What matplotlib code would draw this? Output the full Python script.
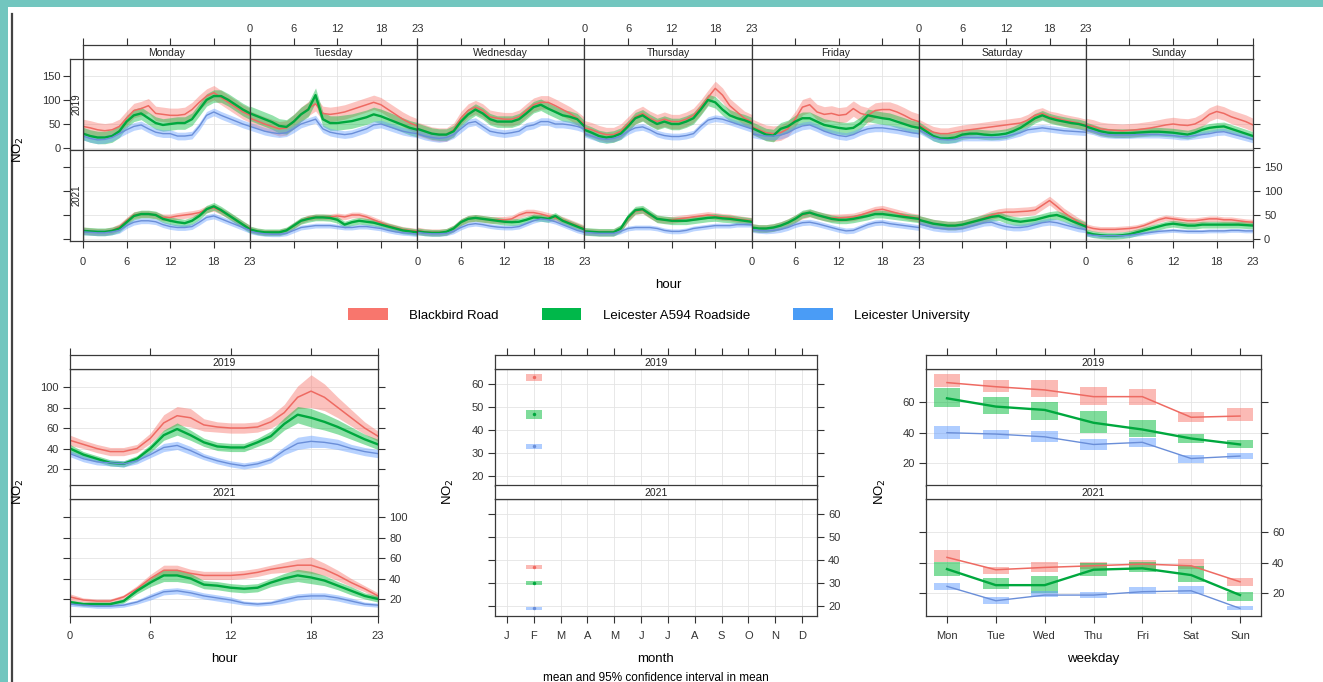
import matplotlib.pyplot as plt
from matplotlib import font_manager
from matplotlib.patches import Rectangle, Patch
from matplotlib.lines import Line2D

# ---------------- data ----------------
sites = ["Blackbird Road", "Leicester A594 Roadside", "Leicester University"]
years = ["2019", "2021"]
days = ["Monday", "Tuesday", "Wednesday", "Thursday", "Friday", "Saturday", "Sunday"]
hours = list(range(24))
months = ["J", "F", "M", "A", "M", "J", "J", "A", "S", "O", "N", "D"]
weekdays = ["Mon", "Tue", "Wed", "Thu", "Fri", "Sat", "Sun"]

# hour x weekday means (Mon..Sun, 24 hours each)
bb_dh_2019 = [
    [45, 42, 38, 36, 38, 45, 62, 78, 82, 88, 72, 70, 68, 68, 70, 80, 95, 108, 115, 105, 95, 85, 75, 68],
    [62, 56, 50, 45, 40, 42, 55, 70, 82, 92, 72, 70, 72, 75, 80, 85, 90, 95, 90, 80, 70, 60, 52, 46],
    [40, 35, 30, 28, 28, 38, 62, 78, 85, 78, 65, 62, 60, 60, 65, 78, 90, 95, 95, 88, 80, 72, 62, 50],
    [42, 38, 32, 28, 28, 35, 50, 65, 72, 62, 55, 60, 55, 55, 60, 68, 85, 105, 124, 110, 88, 75, 62, 55],
    [45, 38, 32, 30, 32, 40, 60, 85, 90, 75, 70, 72, 68, 70, 82, 72, 68, 78, 80, 80, 75, 68, 60, 55],
    [48, 40, 33, 30, 30, 33, 36, 38, 40, 42, 44, 46, 48, 50, 52, 58, 68, 72, 65, 62, 58, 55, 52, 48],
    [48, 45, 40, 38, 37, 36, 37, 38, 40, 42, 45, 48, 50, 48, 47, 50, 58, 70, 76, 72, 65, 60, 55, 48],
]
a594_dh_2019 = [
    [30, 25, 22, 22, 25, 35, 55, 68, 72, 62, 52, 48, 50, 52, 52, 60, 80, 100, 108, 108, 100, 90, 80, 72],
    [72, 66, 60, 54, 46, 44, 55, 70, 80, 110, 60, 52, 52, 54, 56, 60, 64, 70, 66, 60, 54, 48, 42, 38],
    [40, 35, 30, 28, 28, 35, 55, 70, 80, 72, 60, 55, 55, 55, 60, 72, 85, 90, 82, 75, 68, 65, 60, 45],
    [38, 32, 25, 22, 24, 30, 45, 62, 68, 58, 50, 55, 50, 50, 55, 62, 80, 100, 95, 80, 68, 62, 58, 52],
    [42, 35, 28, 26, 40, 45, 55, 62, 62, 55, 48, 45, 42, 40, 42, 52, 68, 65, 62, 60, 55, 50, 45, 42],
    [45, 35, 25, 20, 20, 22, 28, 30, 30, 28, 27, 28, 30, 35, 42, 52, 62, 68, 62, 58, 55, 52, 50, 46],
    [45, 40, 35, 32, 31, 31, 31, 32, 33, 34, 34, 33, 32, 30, 28, 32, 38, 42, 44, 45, 40, 35, 30, 25],
]
uni_dh_2019 = [
    [25, 20, 17, 18, 22, 30, 38, 45, 48, 40, 33, 30, 30, 25, 25, 27, 45, 68, 75, 68, 62, 56, 50, 45],
    [45, 40, 35, 32, 30, 32, 40, 50, 55, 60, 40, 33, 30, 28, 30, 35, 40, 48, 50, 45, 40, 35, 32, 30],
    [30, 25, 22, 20, 22, 28, 40, 52, 55, 45, 35, 32, 30, 32, 35, 45, 48, 55, 55, 50, 50, 48, 45, 40],
    [30, 25, 20, 18, 20, 25, 35, 42, 44, 38, 30, 26, 24, 24, 26, 30, 45, 58, 62, 60, 55, 50, 45, 40],
    [30, 27, 25, 25, 27, 32, 40, 46, 48, 42, 35, 30, 26, 24, 28, 35, 40, 42, 42, 40, 38, 35, 32, 30],
    [38, 30, 22, 18, 17, 18, 22, 22, 22, 22, 22, 22, 24, 28, 32, 38, 40, 42, 40, 38, 36, 35, 34, 33],
    [38, 35, 30, 28, 27, 27, 27, 28, 28, 28, 28, 27, 26, 24, 24, 26, 28, 30, 33, 34, 30, 26, 22, 18],
]
bb_dh_2021 = [
    [18, 16, 15, 15, 18, 25, 38, 50, 52, 52, 50, 45, 45, 48, 50, 52, 55, 62, 65, 58, 50, 40, 30, 22],
    [20, 16, 14, 14, 14, 18, 28, 38, 44, 46, 46, 46, 48, 46, 50, 50, 46, 40, 34, 28, 24, 20, 18, 16],
    [18, 15, 14, 14, 15, 22, 35, 42, 44, 42, 40, 40, 40, 42, 50, 55, 55, 52, 48, 44, 40, 34, 28, 22],
    [16, 15, 14, 14, 14, 22, 42, 58, 60, 50, 42, 40, 40, 42, 44, 46, 48, 50, 48, 46, 45, 42, 40, 38],
    [24, 22, 22, 24, 28, 34, 42, 50, 54, 50, 46, 44, 44, 45, 46, 50, 55, 60, 62, 58, 54, 50, 46, 44],
    [40, 36, 32, 30, 28, 28, 30, 34, 38, 44, 50, 54, 56, 56, 57, 58, 60, 70, 80, 68, 55, 45, 35, 28],
    [26, 22, 20, 20, 20, 21, 22, 24, 28, 34, 40, 44, 42, 40, 38, 38, 40, 42, 42, 40, 40, 38, 36, 35],
]
a594_dh_2021 = [
    [17, 16, 15, 15, 17, 22, 35, 48, 52, 52, 50, 42, 38, 35, 33, 38, 48, 62, 68, 60, 50, 40, 30, 20],
    [20, 16, 14, 14, 14, 18, 28, 38, 42, 45, 45, 44, 40, 30, 35, 38, 36, 34, 30, 26, 22, 18, 16, 14],
    [16, 14, 13, 13, 15, 22, 35, 42, 44, 42, 40, 38, 36, 35, 36, 40, 45, 44, 42, 48, 38, 32, 26, 20],
    [16, 15, 14, 14, 14, 22, 45, 60, 62, 52, 42, 40, 38, 38, 38, 40, 42, 44, 45, 43, 42, 40, 38, 36],
    [24, 22, 22, 24, 28, 34, 42, 52, 55, 50, 46, 42, 40, 40, 42, 45, 48, 52, 52, 50, 48, 46, 44, 42],
    [40, 36, 32, 30, 28, 28, 30, 34, 38, 42, 46, 48, 42, 38, 36, 38, 40, 44, 48, 50, 45, 38, 32, 26],
    [14, 10, 8, 7, 7, 8, 10, 14, 18, 22, 26, 30, 32, 30, 28, 28, 30, 30, 30, 30, 30, 30, 29, 28],
]
uni_dh_2021 = [
    [15, 14, 13, 13, 15, 18, 28, 35, 38, 38, 36, 30, 26, 24, 24, 26, 35, 45, 48, 42, 36, 30, 24, 18],
    [16, 13, 11, 10, 10, 12, 18, 24, 26, 28, 28, 28, 26, 24, 24, 26, 26, 24, 22, 18, 15, 13, 12, 10],
    [14, 12, 11, 11, 12, 16, 24, 30, 32, 30, 27, 25, 24, 24, 26, 32, 38, 42, 40, 36, 30, 24, 18, 14],
    [14, 13, 12, 12, 12, 16, 22, 24, 24, 24, 22, 18, 16, 16, 18, 22, 24, 26, 28, 28, 28, 30, 30, 30],
    [20, 18, 17, 18, 20, 24, 30, 34, 35, 32, 28, 24, 20, 17, 18, 24, 30, 34, 35, 32, 30, 28, 26, 24],
    [32, 28, 24, 22, 21, 21, 22, 26, 30, 34, 35, 30, 26, 24, 24, 26, 30, 34, 36, 34, 30, 26, 22, 20],
    [10, 8, 7, 7, 7, 7, 8, 10, 12, 14, 16, 17, 18, 17, 16, 16, 16, 17, 17, 17, 18, 18, 17, 17],
]
# half width of the 95% interval for each weekday panel
bb_dh_ci_2019 = [15, 15, 14, 15, 16, 12, 14]
a594_dh_ci_2019 = [13, 15, 12, 12, 13, 10, 9]
uni_dh_ci_2019 = [8, 8, 8, 7, 8, 7, 7]
bb_dh_ci_2021 = [7, 6, 7, 7, 8, 9, 6]
a594_dh_ci_2021 = [8, 7, 7, 8, 8, 9, 7]
uni_dh_ci_2021 = [6, 5, 5, 5, 6, 7, 4]

# hour of day
bb_hour_2019 = [48, 44, 40, 37, 37, 40, 50, 65, 72, 70, 63, 61, 60, 60, 61, 66, 75, 90, 96, 90, 80, 70, 60, 52]
a594_hour_2019 = [40, 34, 30, 26, 25, 30, 40, 53, 59, 53, 46, 42, 41, 41, 46, 52, 64, 73, 70, 66, 61, 55, 49, 44]
uni_hour_2019 = [35, 30, 27, 26, 25, 28, 34, 41, 43, 38, 32, 28, 25, 23, 25, 29, 38, 45, 47, 46, 44, 40, 37, 35]
bb_hour_2021 = [22, 19, 18, 18, 22, 30, 40, 48, 48, 45, 43, 43, 43, 44, 46, 49, 51, 53, 53, 49, 43, 36, 30, 23]
a594_hour_2021 = [17, 15, 15, 15, 18, 28, 36, 43, 43, 40, 34, 33, 31, 30, 31, 36, 40, 43, 41, 38, 33, 28, 23, 20]
uni_hour_2021 = [15, 14, 13, 13, 14, 17, 22, 27, 28, 26, 23, 21, 19, 16, 15, 16, 19, 22, 23, 23, 21, 18, 15, 14]
bb_hour_ci_2019 = [5, 4, 4, 4, 4, 4, 5, 8, 9, 9, 6, 5, 5, 5, 5, 6, 8, 11, 16, 13, 10, 8, 6, 5]
a594_hour_ci_2019 = [4, 3, 3, 3, 3, 3, 4, 5, 6, 5, 4, 4, 4, 4, 4, 5, 6, 8, 9, 8, 7, 6, 5, 5]
uni_hour_ci_2019 = [3, 3, 3, 3, 3, 3, 3, 4, 4, 4, 3, 3, 3, 3, 3, 3, 4, 6, 6, 5, 5, 4, 4, 4]
bb_hour_ci_2021 = [3, 2, 2, 2, 2, 3, 4, 5, 5, 4, 4, 4, 4, 4, 4, 4, 5, 6, 8, 6, 5, 4, 3, 3]
a594_hour_ci_2021 = [2, 2, 2, 2, 2, 3, 4, 6, 6, 5, 4, 4, 4, 4, 4, 4, 5, 6, 6, 5, 4, 4, 3, 3]
uni_hour_ci_2021 = [2, 2, 2, 2, 2, 2, 3, 3, 3, 3, 3, 3, 3, 2, 2, 2, 3, 3, 3, 3, 3, 3, 2, 2]

# month (only February has data)
month_num = [2]
bb_month_2019, bb_month_lo_2019, bb_month_hi_2019 = [63], [61.5], [64.5]
a594_month_2019, a594_month_lo_2019, a594_month_hi_2019 = [47], [45], [49]
uni_month_2019, uni_month_lo_2019, uni_month_hi_2019 = [33], [32], [34]
bb_month_2021, bb_month_lo_2021, bb_month_hi_2021 = [37], [36], [38]
a594_month_2021, a594_month_lo_2021, a594_month_hi_2021 = [30], [29], [31]
uni_month_2021, uni_month_lo_2021, uni_month_hi_2021 = [19], [18.3], [19.7]

# weekday
bb_wd_2019 = [72.7, 70, 67.9, 63.5, 63.5, 50, 50.8]
bb_wd_lo_2019 = [69.5, 66.8, 63, 58, 58, 47, 47.7]
bb_wd_hi_2019 = [78.6, 74.4, 74.4, 70, 68.4, 53.6, 56]
a594_wd_2019 = [62.4, 57, 54.8, 46.4, 42, 36.1, 32.2]
a594_wd_lo_2019 = [57, 52, 48.2, 39.5, 37.2, 33.3, 29.6]
a594_wd_hi_2019 = [69.4, 63.5, 60.2, 54, 48.2, 39, 35]
uni_wd_2019 = [39.9, 39, 37.2, 32.2, 33.6, 23, 24.6]
uni_wd_lo_2019 = [35.5, 35.7, 34, 28.5, 30.3, 20.2, 22.4]
uni_wd_hi_2019 = [44.3, 41.6, 41, 36, 36.6, 25.2, 26.4]
bb_wd_2021 = [43.4, 35.3, 36.8, 37.9, 39, 37.9, 27.4]
bb_wd_lo_2021 = [40.1, 32.5, 34, 35.7, 35.7, 35.7, 24.8]
bb_wd_hi_2021 = [48.2, 37.2, 40.5, 40.1, 41.8, 42, 29.6]
a594_wd_2021 = [35.7, 25.2, 25.2, 35.3, 36.2, 31.8, 18.7]
a594_wd_lo_2021 = [31.3, 23, 20, 31, 33.6, 27.4, 15]
a594_wd_hi_2021 = [40.5, 29.6, 31, 39.7, 40.5, 37.9, 20.9]
uni_wd_2021 = [24.4, 15, 18.7, 18.7, 20.9, 21.5, 10]
uni_wd_lo_2021 = [22.2, 12.8, 17.2, 16.8, 19.3, 19.3, 9]
uni_wd_hi_2021 = [26.4, 17.2, 21.5, 21, 23.7, 24.4, 11.7]

# ---------------- style ----------------
names = {f.name for f in font_manager.fontManager.ttflist}
base_font = "Liberation Sans Narrow" if "Liberation Sans Narrow" in names else "Liberation Sans"
plt.rcParams["font.family"] = [base_font, "DejaVu Sans"]

fill_cols = ["#F8766D", "#00BA38", "#619CFF"]
line_cols = ["#EE6A62", "#00A83E", "#6A8ED8"]
line_ws = [1.1, 1.7, 1.0]
frame_col = "#3a3a3a"
tick_col = "#333333"
grid_col = "#e4e4e4"

W, H = 1323, 682
fig = plt.figure(figsize=(W / 100, H / 100), dpi=100)
fig.patch.set_facecolor("white")


def box(x0, y0, x1, y1):
    return [x0 / W, 1 - y1 / H, (x1 - x0) / W, (y1 - y0) / H]


def base(ax, xlim, ylim, xt, yt, grid=True):
    ax.set_xlim(xlim)
    ax.set_ylim(ylim)
    ax.set_xticks(xt)
    ax.set_yticks(yt)
    if grid:
        ax.grid(True, color=grid_col, lw=0.6)
        ax.set_axisbelow(True)
    ax.tick_params(length=0, width=0.8, labelbottom=False, labelleft=False,
                   colors=tick_col, labelsize=8)
    for sp in ax.spines.values():
        sp.set_color(frame_col)
        sp.set_linewidth(0.9)


# slide frame
fig.add_artist(Rectangle((0, 1 - 7 / H), 1, 7 / H, transform=fig.transFigure,
                         color="#72C6BF", lw=0))
fig.add_artist(Rectangle((0, 0), 8 / W, 1, transform=fig.transFigure,
                         color="#72C6BF", lw=0))
fig.add_artist(Line2D([11.5 / W, 11.5 / W], [0, 1 - 14 / H], transform=fig.transFigure,
                      color="#444444", lw=1.6))

# ---------------- top: hour x weekday ----------------
dh = {"2019": [bb_dh_2019, a594_dh_2019, uni_dh_2019],
      "2021": [bb_dh_2021, a594_dh_2021, uni_dh_2021]}
dh_ci = {"2019": [bb_dh_ci_2019, a594_dh_ci_2019, uni_dh_ci_2019],
         "2021": [bb_dh_ci_2021, a594_dh_ci_2021, uni_dh_ci_2021]}
col_w = (1253 - 83) / 7
rows = [(59, 150), (150, 241)]
dh_ylim = (-4, 185)
dh_yt = [0, 50, 100, 150]
hx = [0, 6, 12, 18, 23]

for r, yr in enumerate(years):
    yt0, yb0 = rows[r]
    for c, day in enumerate(days):
        x0 = 83 + c * col_w
        ax = fig.add_axes(box(x0, yt0, x0 + col_w, yb0))
        base(ax, (0, 23), dh_ylim, hx, dh_yt)
        for s in range(3):
            m = dh[yr][s][c]
            hw = dh_ci[yr][s][c]
            ax.fill_between(hours, [v - hw for v in m], [v + hw for v in m],
                            color=fill_cols[s], alpha=0.42, lw=0)
        for s in range(3):
            ax.plot(hours, dh[yr][s][c], color=line_cols[s], lw=line_ws[s])
        if r == 1:
            ax.tick_params(axis="x", bottom=True, length=5, labelbottom=(c % 2 == 0), pad=6.5)
        if c == 6:
            ax.tick_params(axis="y", left=False, right=True, length=5,
                           labelright=(r == 1), pad=3)
        # top strip with day names
        if r == 0:
            st = fig.add_axes(box(x0, 45, x0 + col_w, 59))
            base(st, (0, 23), (0, 1), hx, [], grid=False)
            st.tick_params(axis="x", top=True, bottom=False, length=5,
                           labeltop=(c % 2 == 1), pad=3)
            st.text(11.5, 0.45, day, ha="center", va="center", fontsize=7.5, color="#222222")
    # left strip with year
    ls = fig.add_axes(box(70, yt0, 83, yb0))
    base(ls, (0, 1), dh_ylim, [], dh_yt, grid=False)
    ls.tick_params(axis="y", left=True, length=5, labelleft=(r == 0), pad=1.5)
    ls.text(0.5, 0.5, yr, transform=ls.transAxes, rotation=90, ha="center", va="center",
            fontsize=7, color="#222222")

fig.text(18 / W, 1 - 150 / H, "NO$_2$", rotation=90, ha="center", va="center", fontsize=9.5)
fig.text(668 / W, 1 - 285 / H, "hour", ha="center", va="center", fontsize=9.5)

# legend
handles = [Patch(facecolor=col, edgecolor="none") for col in ["#F8766D", "#00B84A", "#4A9CF6"]]
fig.legend(handles, sites, loc="center", bbox_to_anchor=(659 / W, 1 - 315 / H), ncol=3,
           frameon=False, fontsize=9.5, handlelength=3.0, handleheight=1.05,
           handletextpad=1.6, columnspacing=3.3)


# ---------------- bottom panels ----------------
def block(x0, x1, xlim, xt, xtl, top_xt, ylim, yt, draw):
    segs = [(369, 486), (499, 616)]
    for r, yr in enumerate(years):
        ya, yb = segs[r]
        ax = fig.add_axes(box(x0, ya, x1, yb))
        base(ax, xlim, ylim, xt, yt)
        draw(ax, yr)
        ax.tick_params(axis="y", left=True, right=True, length=5,
                       labelleft=(r == 0), labelright=(r == 1), pad=3)
        if r == 1:
            ax.tick_params(axis="x", bottom=True, length=5, labelbottom=True, pad=6)
            ax.set_xticklabels(xtl)
        st = fig.add_axes(box(x0, ya - 14, x1, ya))
        base(st, xlim, (0, 1), top_xt if r == 0 else [], [], grid=False)
        if r == 0:
            st.tick_params(axis="x", top=True, bottom=False, length=5)
        st.text(0.5, 0.45, yr, transform=st.transAxes, ha="center", va="center",
                fontsize=7.5, color="#222222")


hour_m = {"2019": [bb_hour_2019, a594_hour_2019, uni_hour_2019],
          "2021": [bb_hour_2021, a594_hour_2021, uni_hour_2021]}
hour_ci = {"2019": [bb_hour_ci_2019, a594_hour_ci_2019, uni_hour_ci_2019],
           "2021": [bb_hour_ci_2021, a594_hour_ci_2021, uni_hour_ci_2021]}


def draw_hour(ax, yr):
    for s in range(3):
        m, hw = hour_m[yr][s], hour_ci[yr][s]
        ax.fill_between(hours, [a - b for a, b in zip(m, hw)], [a + b for a, b in zip(m, hw)],
                        color=fill_cols[s], alpha=0.45, lw=0)
    for s in range(3):
        ax.plot(hours, hour_m[yr][s], color=line_cols[s], lw=line_ws[s])


month_m = {"2019": [bb_month_2019, a594_month_2019, uni_month_2019],
           "2021": [bb_month_2021, a594_month_2021, uni_month_2021]}
month_lo = {"2019": [bb_month_lo_2019, a594_month_lo_2019, uni_month_lo_2019],
            "2021": [bb_month_lo_2021, a594_month_lo_2021, uni_month_lo_2021]}
month_hi = {"2019": [bb_month_hi_2019, a594_month_hi_2019, uni_month_hi_2019],
            "2021": [bb_month_hi_2021, a594_month_hi_2021, uni_month_hi_2021]}


def draw_month(ax, yr):
    for s in range(3):
        lo, hi = month_lo[yr][s], month_hi[yr][s]
        ax.bar(month_num, [b - a for a, b in zip(lo, hi)], bottom=lo, width=0.62,
               color=fill_cols[s], alpha=0.5, lw=0)
        ax.plot(month_num, month_m[yr][s], "o", ms=2.5, color=line_cols[s], mec="none")


wd_m = {"2019": [bb_wd_2019, a594_wd_2019, uni_wd_2019],
        "2021": [bb_wd_2021, a594_wd_2021, uni_wd_2021]}
wd_lo = {"2019": [bb_wd_lo_2019, a594_wd_lo_2019, uni_wd_lo_2019],
         "2021": [bb_wd_lo_2021, a594_wd_lo_2021, uni_wd_lo_2021]}
wd_hi = {"2019": [bb_wd_hi_2019, a594_wd_hi_2019, uni_wd_hi_2019],
         "2021": [bb_wd_hi_2021, a594_wd_hi_2021, uni_wd_hi_2021]}
wd_x = list(range(1, 8))


def draw_wd(ax, yr):
    for s in range(3):
        lo, hi = wd_lo[yr][s], wd_hi[yr][s]
        ax.bar(wd_x, [b - a for a, b in zip(lo, hi)], bottom=lo, width=0.54,
               color=fill_cols[s], alpha=0.5, lw=0)
    for s in range(3):
        ax.plot(wd_x, wd_m[yr][s], color=line_cols[s], lw=line_ws[s])


block(70, 378, (0, 23), hx, [str(v) for v in hx], [0, 6, 12, 18, 23],
      (3.4, 117.6), [20, 40, 60, 80, 100], draw_hour)
block(495, 817, (0.55, 12.56), list(range(1, 13)), months, list(range(1, 13)),
      (15.7, 66.7), [20, 30, 40, 50, 60], draw_month)
block(926, 1261, (0.57, 7.43), wd_x, weekdays, wd_x,
      (5, 81.6), [20, 40, 60], draw_wd)

for xp in (18, 448, 880):
    fig.text(xp / W, 1 - 492 / H, "NO$_2$", rotation=90, ha="center", va="center", fontsize=9.5)
fig.text(224 / W, 1 - 659 / H, "hour", ha="center", va="center", fontsize=9.5)
fig.text(656 / W, 1 - 659 / H, "month", ha="center", va="center", fontsize=9.5)
fig.text(1093 / W, 1 - 659 / H, "weekday", ha="center", va="center", fontsize=9.5)
fig.text(656 / W, 1 - 678 / H, "mean and 95% confidence interval in mean",
         ha="center", va="center", fontsize=8.5)

fig.savefig("out.png", dpi=100)
